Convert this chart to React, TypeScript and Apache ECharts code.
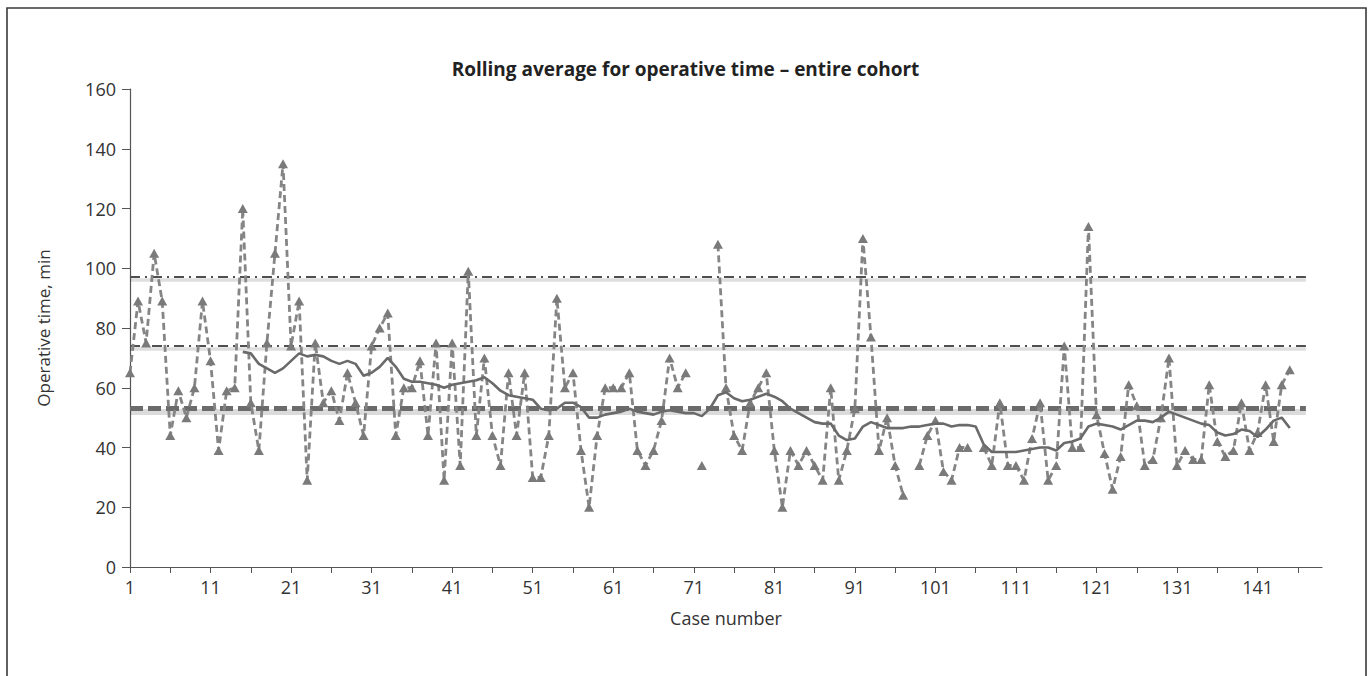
import React, { useEffect, useRef } from "react";
import * as echarts from "echarts";

const caseLabels: string[] = Array.from({ length: 149 }, (_, i) => String(i + 1));

// Operative time per case (min); null = missing case
const operativeTime: (number | null)[] = [
  65, 89, 75, 105, 89, 44, 59, 50, 60, 89,
  69, 39, 59, 60, 120, 55, 39, 75, 105, 135,
  74, 89, 29, 75, 55, 59, 49, 65, 55, 44,
  74, 80, 85, 44, 60, 60, 69, 44, 75, 29,
  75, 34, 99, 44, 70, 44, 34, 65, 44, 65,
  30, 30, 44, 90, 60, 65, 39, 20, 44, 60,
  60, 60, 65, 39, 34, 39, 49, 70, 60, 65,
  null, 34, null, 108, 60, 44, 39, 55, 60, 65,
  39, 20, 39, 34, 39, 34, 29, 60, 29, 39,
  53, 110, 77, 39, 50, 34, 24, null, 34, 44,
  49, 32, 29, 40, 40, null, 40, 34, 55, 34,
  34, 29, 43, 55, 29, 34, 74, 40, 40, 114,
  51, 38, 26, 37, 61, 54, 34, 36, 50, 70,
  34, 39, 36, 36, 61, 42, 37, 39, 55, 39,
  45, 61, 42, 61, 66,
];

// Rolling average, starting at case 15
const rollingAverage: (number | null)[] = [
  null, null, null, null, null, null, null, null, null, null,
  null, null, null, null, 72, 71.5, 68, 66.5, 65, 66.5,
  69, 71.5, 70.5, 71, 70.5, 69, 68, 69, 68, 64,
  65, 67, 70, 67, 63, 62, 62, 61.5, 61, 60,
  61, 61.5, 62, 62.5, 63.5, 61.5, 59, 57.5, 57, 56.5,
  56, 53, 52.5, 53, 55, 55, 53.5, 50, 50, 51,
  51.5, 52, 53, 52, 51.5, 51, 52, 52.5, 52, 51.5,
  51.5, 50.5, 53, 57.5, 58.5, 56.5, 55.5, 56, 57, 58,
  57, 55.5, 53, 51.5, 50, 48.5, 48, 48, 44, 42.5,
  43, 47, 48.5, 47.5, 46.5, 46.5, 46.5, 47, 47, 47.5,
  48, 48, 47, 47.5, 47.5, 47, 41, 38.5, 38.5, 38.5,
  38.5, 39, 39.5, 40, 40, 39, 41.5, 42, 43, 47,
  48, 47.5, 47, 46, 47.5, 49, 49, 48.5, 50, 52,
  51, 50, 49, 48, 47.5, 45, 44, 44.5, 46, 45.5,
  43.5, 46, 49, 50, 46.5,
];

const dashDotLevels: number[] = [97, 74];
const meanLevel: number[] = [53];
const refStartIndex = 0;
const refEndIndex = 146;

const yTicks = { min: 0, max: 160, interval: 20 };

const FONT = "'Open Sans', 'Noto Sans', sans-serif";
const GLOW_OFFSET = 0.9; // y-units the soft glow sits below each reference line

export default function App() {
  const ref = useRef<HTMLDivElement>(null);

  useEffect(() => {
    if (!ref.current) return;
    const chart = echarts.init(ref.current, null, { renderer: "svg" });

    const pair = (v: number, lineStyle: any) => [
      { coord: [refStartIndex, v], lineStyle },
      { coord: [refEndIndex, v] },
    ];

    const markData: any[] = [
      // soft glows under the reference lines
      ...dashDotLevels.map((v) =>
        pair(v - GLOW_OFFSET, { type: "solid", width: 3.5, color: "rgba(0,0,0,0.13)" })
      ),
      ...meanLevel.map((v) =>
        pair(v - GLOW_OFFSET, { type: "solid", width: 6, color: "rgba(0,0,0,0.14)" })
      ),
      ...dashDotLevels.map((v) =>
        pair(v, { type: [10, 5, 2, 5], width: 1.9, color: "#4f4f4f" })
      ),
      ...meanLevel.map((v) =>
        pair(v, { type: [13, 5], width: 5, color: "#6b6b6b" })
      ),
    ];

    chart.setOption({
      animation: false,
      backgroundColor: "#ffffff",
      textStyle: { fontFamily: FONT },
      title: {
        text: "Rolling average for operative time – entire cohort",
        left: "center",
        top: 54,
        textStyle: { fontFamily: FONT, fontSize: 19, fontWeight: "bold", color: "#222222" },
      },
      graphic: [
        {
          type: "rect",
          shape: { x: 7, y: 8, width: 1359, height: 720 },
          style: { fill: "none", stroke: "#3a3a3a", lineWidth: 1.6 },
          silent: true,
        },
      ],
      grid: { left: 130, right: 49, top: 89, bottom: 109, containLabel: false },
      xAxis: {
        type: "category",
        data: caseLabels,
        boundaryGap: false,
        name: "Case number",
        nameLocation: "middle",
        nameGap: 42,
        nameTextStyle: { fontFamily: FONT, fontSize: 18, color: "#333333" },
        axisLine: { show: true, lineStyle: { color: "#555555", width: 1.2 } },
        axisTick: { show: true, interval: 4, length: 6, lineStyle: { color: "#555555" } },
        axisLabel: { interval: 9, margin: 11, fontSize: 18, color: "#333333", fontFamily: FONT },
        splitLine: { show: false },
      },
      yAxis: {
        type: "value",
        min: yTicks.min,
        max: yTicks.max,
        interval: yTicks.interval,
        name: "Operative time, min",
        nameLocation: "middle",
        nameGap: 78,
        nameTextStyle: { fontFamily: FONT, fontSize: 17, color: "#333333" },
        axisLine: { show: true, lineStyle: { color: "#555555", width: 1.2 } },
        axisTick: { show: true, length: 8, lineStyle: { color: "#555555" } },
        axisLabel: { margin: 14, fontSize: 18, color: "#333333", fontFamily: FONT },
        splitLine: { show: false },
      },
      series: [
        {
          name: "Operative time",
          type: "line",
          data: operativeTime,
          connectNulls: false,
          symbol: "triangle",
          symbolSize: [10, 9],
          showSymbol: true,
          showAllSymbol: true,
          lineStyle: { type: [7, 4], width: 2.8, color: "#858585" },
          itemStyle: { color: "#7a7a7a" },
          z: 3,
          markLine: {
            silent: true,
            symbol: "none",
            label: { show: false },
            data: markData,
            z: 2,
          },
        },
        {
          name: "Rolling average",
          type: "line",
          data: rollingAverage,
          connectNulls: false,
          symbol: "none",
          lineStyle: { type: "solid", width: 2.6, color: "#6a6a6a" },
          z: 4,
        },
      ],
    });

    return () => chart.dispose();
  }, []);

  return (
    <div
      ref={ref}
      style={{ position: "absolute", left: 0, top: 0, width: 1371, height: 676 }}
    />
  );
}
